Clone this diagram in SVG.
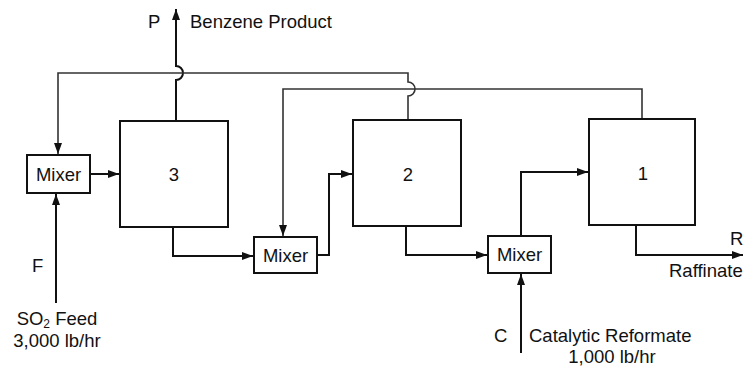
<svg xmlns="http://www.w3.org/2000/svg" width="744" height="367" viewBox="0 0 744 367">
<style>
  .box { fill: #fff; stroke: #111; stroke-width: 2; }
  .ln { fill: none; stroke: #111; stroke-width: 2; }
  .rc { fill: none; stroke: #333; stroke-width: 1.6; }
  text { font-family: "Liberation Sans", Arial, sans-serif; font-size: 18.5px; fill: #111; }
  .c { text-anchor: middle; }
</style>
<defs>
  <marker id="ah" markerUnits="userSpaceOnUse" markerWidth="12" markerHeight="8" refX="11" refY="4" orient="auto">
    <path d="M0,0 L11,4 L0,8 z" fill="#111"/>
  </marker>
</defs>
<g id="connectors">
  <path class="ln" d="M56,303 V194" marker-end="url(#ah)"/>
  <path class="ln" d="M91,174 H119" marker-end="url(#ah)"/>
  <path class="ln" d="M176,121 V80 A7,7 0 0 0 176,66 V9" marker-end="url(#ah)"/>
  <path class="rc" d="M408,120 V96 A7,7 0 0 0 408,82 V73 H58 V154" marker-end="url(#ah)"/>
  <path class="rc" d="M642,119 V89 H283 V236" marker-end="url(#ah)"/>
  <path class="ln" d="M173,227 V256 H253" marker-end="url(#ah)"/>
  <path class="ln" d="M318,255 H329 V174 H352" marker-end="url(#ah)"/>
  <path class="ln" d="M406,226 V255 H487" marker-end="url(#ah)"/>
  <path class="ln" d="M521,236 V172 H588" marker-end="url(#ah)"/>
  <path class="ln" d="M521,353 V274" marker-end="url(#ah)"/>
  <path class="ln" d="M636,225 V255 H743" marker-end="url(#ah)"/>
</g>
<g id="mixer1"><rect class="box" x="27" y="155" width="63" height="38"/><text class="c" x="58.5" y="181">Mixer</text></g>
<g id="tank3"><rect class="box" x="120" y="121" width="108" height="106"/><text class="c" x="174" y="181">3</text></g>
<g id="mixer2"><rect class="box" x="254" y="237" width="63" height="36"/><text class="c" x="285.5" y="262">Mixer</text></g>
<g id="tank2"><rect class="box" x="353" y="120" width="108" height="106"/><text class="c" x="408" y="181">2</text></g>
<g id="mixer3"><rect class="box" x="488" y="236" width="63" height="37"/><text class="c" x="519.5" y="261">Mixer</text></g>
<g id="tank1"><rect class="box" x="589" y="119" width="106" height="106"/><text class="c" x="643" y="180">1</text></g>
<g id="labels">
  <text x="148" y="28">P</text>
  <text x="190" y="28">Benzene Product</text>
  <text x="32" y="272">F</text>
  <text class="c" x="57" y="325">SO<tspan font-size="12" dy="3">2</tspan><tspan dy="-3"> Feed</tspan></text>
  <text class="c" x="57" y="347">3,000 lb/hr</text>
  <text x="494" y="342">C</text>
  <text x="529" y="342">Catalytic Reformate</text>
  <text class="c" x="612" y="362.5">1,000 lb/hr</text>
  <text x="730" y="245">R</text>
  <text x="669" y="277">Raffinate</text>
</g>
</svg>
